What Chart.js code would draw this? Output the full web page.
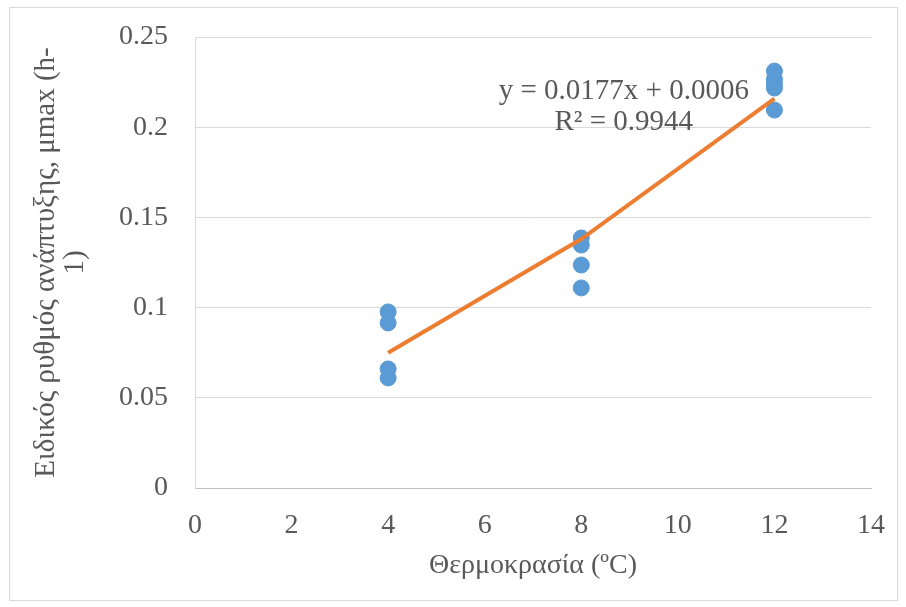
<!DOCTYPE html>
<html>
<head>
<meta charset="utf-8">
<script src="https://cdn.jsdelivr.net/npm/chart.js@4/dist/chart.umd.min.js"></script>
<style>
  body { margin: 0; background: #fff; }
  #wrap { width: 906px; height: 607px; }
</style>
</head>
<body>
<div id="wrap"><canvas id="grafico" width="906" height="607"></canvas></div>
<script>
// θερμοκρασίες και μmax όπως διαβάζονται από το γράφημα
const temperatures = [4, 4, 4, 4, 8, 8, 8, 8, 12, 12, 12, 12, 12];
const muMax = [0.0976, 0.0915, 0.0660, 0.0610, 0.1386, 0.1347, 0.1236, 0.1109, 0.2311, 0.2267, 0.2240, 0.2217, 0.2095];
// γραμμή τάσης (σημεία όπως φαίνονται στο γράφημα)
const trendX = [4, 8, 12];
const trendY = [0.0750, 0.1380, 0.2158];
const equationText = ['y = 0.0177x + 0.0006', 'R² = 0.9944'];
const xTicks = [0, 2, 4, 6, 8, 10, 12, 14];
const yTicks = [0, 0.05, 0.1, 0.15, 0.2, 0.25];

const grey = '#595959';
const serif = "'Liberation Serif', 'Times New Roman', serif";

const points = temperatures.map((t, i) => ({ x: t, y: muMax[i] }));
const trend = trendX.map((t, i) => ({ x: t, y: trendY[i] }));

const extras = {
    id: 'extras',
    beforeDraw(chart) {
        const c = chart.ctx;
        c.save();
        c.fillStyle = '#fff';
        c.fillRect(0, 0, chart.width, chart.height);
        c.strokeStyle = '#d9d9d9';
        c.lineWidth = 1;
        c.strokeRect(9.5, 7.5, 888, 593);
        c.restore();
    },
    afterDatasetsDraw(chart) {
        const c = chart.ctx;
        const xs = chart.scales.x, ys = chart.scales.y;
        c.save();
        c.fillStyle = grey;
        c.font = '29px ' + serif;
        c.textAlign = 'center';
        c.textBaseline = 'middle';
        c.fillText(equationText[0], xs.getPixelForValue(8.88), ys.getPixelForValue(0.2198));
        c.fillText(equationText[1], xs.getPixelForValue(8.88), ys.getPixelForValue(0.2028));
        c.restore();
    }
};

new Chart(document.getElementById('grafico'), {
    type: 'scatter',
    data: {
        datasets: [
            {
                label: 'μmax',
                data: points,
                backgroundColor: '#5B9BD5',
                borderColor: '#5B9BD5',
                pointRadius: 8,
                pointHoverRadius: 8,
                order: 2
            },
            {
                label: 'trend',
                type: 'line',
                data: trend,
                borderColor: '#ED7D31',
                borderWidth: 4,
                pointRadius: 0,
                tension: 0,
                fill: false,
                order: 1
            }
        ]
    },
    options: {
        responsive: false,
        animation: false,
        layout: { padding: { top: 37, right: 31, left: 32, bottom: 21 } },
        plugins: {
            legend: { display: false },
            tooltip: { enabled: false }
        },
        scales: {
            x: {
                type: 'linear',
                min: 0,
                max: 14,
                afterBuildTicks: (s) => { s.ticks = xTicks.map(v => ({ value: v })); },
                grid: { display: false, drawTicks: false },
                border: { color: '#bfbfbf', width: 1 },
                ticks: { color: grey, font: { family: serif, size: 28 }, padding: 21 },
                title: {
                    display: true,
                    text: 'Θερμοκρασία (ºC)',
                    color: grey,
                    font: { family: serif, size: 28 },
                    padding: { top: 10 }
                },
                afterFit: (s) => { s.height = 98; }
            },
            y: {
                min: 0,
                max: 0.25,
                afterBuildTicks: (s) => { s.ticks = yTicks.map(v => ({ value: v })); },
                grid: { color: '#d9d9d9', drawTicks: false },
                border: { color: '#d9d9d9', width: 1 },
                ticks: {
                    color: grey,
                    font: { family: serif, size: 28 },
                    padding: 27,
                    callback: (v) => String(v)
                },
                title: {
                    display: true,
                    text: ['Ειδικός ρυθμός ανάπτυξης, μmax (h-', '1)'],
                    color: grey,
                    font: { family: serif, size: 29, lineHeight: 1.0 },
                    padding: { top: 0, bottom: 0 }
                },
                afterFit: (s) => { s.width = 163; s.paddingTop = 0; s.paddingBottom = 0; }
            }
        }
    },
    plugins: [extras]
});
</script>
</body>
</html>
